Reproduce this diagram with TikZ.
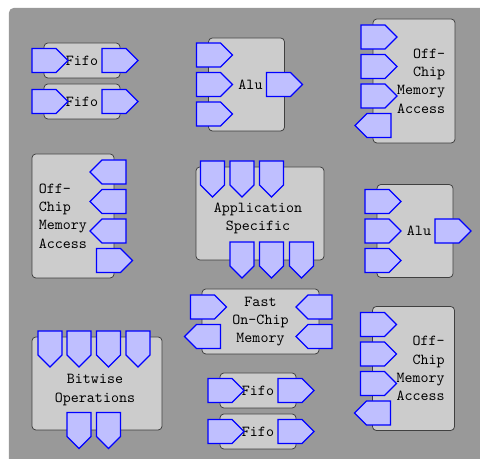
\documentclass[tikz,border=0pt]{standalone}
\usetikzlibrary{shapes.symbols,positioning}
\newcommand\px{0.656pt}
\begin{document}
\begin{tikzpicture}[x=\px, y=-\px, font=\ttfamily,
    body/.style 2 args={draw=black!75, fill=black!20, line width=0.5pt,
                 rounded corners=2.5pt, inner sep=0pt, align=center,
                 minimum width=#1*\px, minimum height=#2*\px},
    port/.style={signal, signal to=#1, signal from=nowhere, draw=blue,
                 fill=blue!25, line width=0.8pt, inner sep=0pt},
    hport/.style={port=#1, minimum width=36*\px, minimum height=24*\px},
    vport/.style={port=south, minimum width=24*\px, minimum height=24*\px},
    txt/.style={inner sep=0pt, align=#1}]
  \useasboundingbox (0,0) rectangle (480,459);
  \clip (0,0) rectangle (480,459);
  \fill[black!40, rounded corners=3pt] (9,8) rectangle (490,470);
  %% Fifo blocks
  \foreach \nm/\cx/\cy in {fifoA/82/60.5, fifoB/82/101.5, fifoC/258/390.5, fifoD/258/431.5} {
    \node[body={76}{35}] (\nm) at (\cx,\cy) {Fifo};
    \node[hport=east] (\nm-in) at (\cx-38,\cy) {};
    \node[hport=east] (\nm-out) at (\cx+32,\cy) {};
  }
  %% Alu blocks
  \foreach \nm/\cx/\cy in {aluA/246.5/84.5, aluB/415/231} {
    \node[body={76}{93}] (\nm) at (\cx,\cy) {};
    \foreach \i/\dy in {1/-29.5, 2/0, 3/29.5}
      \node[hport=east] (\nm-in\i) at (\cx-38,\cy+\dy) {};
    \node[hport=east] (\nm-out) at (\cx+32,\cy) {};
    \node[txt=center] (\nm-txt) at (\cx+4,\cy) {Alu};
  }
  %% Off-chip memory access, ports on the left
  \foreach \nm/\cx/\cy in {offA/414/81, offC/413.5/368.5} {
    \node[body={82}{124}] (\nm) at (\cx,\cy) {};
    \foreach \i/\dy in {1/-44, 2/-14.5, 3/15}
      \node[hport=east] (\nm-in\i) at (\cx-41,\cy+\dy) {};
    \node[hport=west] (\nm-out) at (\cx-35,\cy+44.5) {};
    \node[txt=right, anchor=east, left=10*\px of \nm.east] (\nm-txt)
      {Off-\\Chip\\Memory\\Access};
  }
  %% Off-chip memory access, ports on the right
  \node[body={82}{124}] (offB) at (73,216) {};
  \foreach \i/\dy in {1/-44, 2/-14.5, 3/15}
    \node[hport=west] (offB-in\i) at (114,216+\dy) {};
  \node[hport=east] (offB-out) at (108.5,260.5) {};
  \node[txt=left, right=7*\px of offB.west] (offB-txt)
    {Off-\\Chip\\Memory\\Access};
  %% Application specific
  \node[body={128}{93}] (app) at (260,213.5) {};
  \foreach \i/\dx in {1/-47.5, 2/-18, 3/11.5}
    \node[vport] (app-in\i) at (260+\dx,173) {};
  \foreach \i/\dx in {1/-18, 2/11.5, 3/41.5}
    \node[vport] (app-out\i) at (260+\dx,254) {};
  \node[txt=center] (app-txt) at (258,218.5) {Application\\Specific};
  %% Bitwise operations
  \node[body={130}{93}] (bit) at (97,383.5) {};
  \foreach \i/\dx in {1/-47, 2/-18, 3/11.5, 4/41}
    \node[vport] (bit-in\i) at (97+\dx,343) {};
  \foreach \i/\dx in {1/-18, 2/11.5}
    \node[vport] (bit-out\i) at (97+\dx,424.5) {};
  \node[txt=center] (bit-txt) at (95,390) {Bitwise\\Operations};
  %% Fast on-chip memory
  \node[body={117}{65}] (fast) at (260.5,321.5) {Fast\\On-Chip\\Memory};
  \node[hport=east] (fast-in1) at (202.5,307) {};
  \node[hport=west] (fast-out) at (208.5,336.5) {};
  \node[hport=west] (fast-in2) at (320,307) {};
  \node[hport=west] (fast-in3) at (320,336.5) {};
\end{tikzpicture}
\end{document}
